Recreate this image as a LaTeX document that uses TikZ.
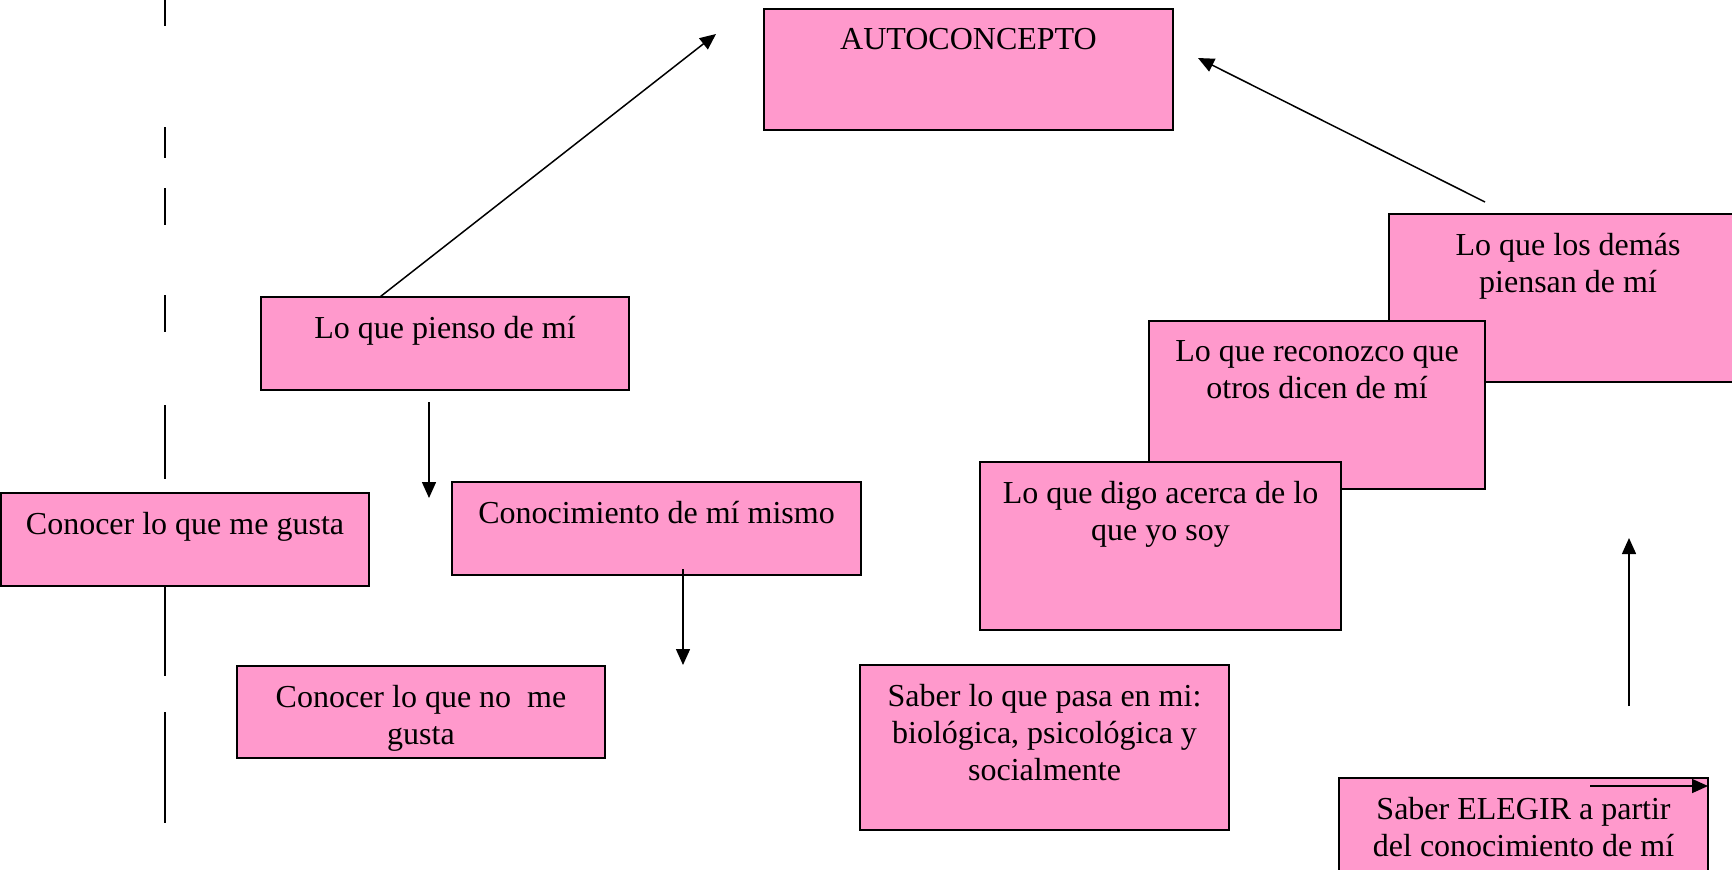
\documentclass[tikz,border=0pt]{standalone}
\usepackage{fontspec}
\setmainfont{Liberation Serif}
\usetikzlibrary{arrows.meta, calc}
\definecolor{boxpink}{HTML}{FF99CC}

\tikzset{
  pinkbox/.style={draw=black, line width=1pt, fill=boxpink, anchor=north west,
    inner sep=0pt, outer sep=0pt},
  boxtext/.style={anchor=north, align=center, inner sep=0pt, yshift=-9.5pt,
    font=\fontsize{16}{18.5}\selectfont},
  conn/.style={line width=0.75pt, -{Triangle[length=8pt,width=7pt]}}
}

\begin{document}
\begin{tikzpicture}[x=0.5pt, y=-0.5pt]

\useasboundingbox (0,0) rectangle (1732,869);
\clip (0,0) rectangle (1732,869);

% Broken line on the left
\foreach \ya/\yb in {0/26, 127/158, 188/225, 295/332, 405/479, 587/676, 712/823}
  \draw[line width=1pt] (165,\ya) -- (165,\yb);

% Boxes (the three on the right overlap, drawn back to front)
\node[pinkbox, minimum width=204.5pt, minimum height=60.5pt,
  label={[boxtext]90:AUTOCONCEPTO}] (auto) at (764,9) {};
\node[pinkbox, minimum width=179pt, minimum height=84pt,
  label={[boxtext]90:{Lo que los demás\\ piensan de mí}}] (demas) at (1389,214) {};
\node[pinkbox, minimum width=168pt, minimum height=84pt,
  label={[boxtext]90:{Lo que reconozco que\\ otros dicen de mí}}] (reconozco) at (1149,321) {};
\node[pinkbox, minimum width=180.5pt, minimum height=84pt,
  label={[boxtext]90:{Lo que digo acerca de lo\\ que yo soy}}] (digo) at (980,462) {};
\node[pinkbox, minimum width=184pt, minimum height=46.5pt,
  label={[boxtext]90:{Lo que pienso de mí}}] (pienso) at (261,297) {};
\node[pinkbox, minimum width=184pt, minimum height=46.5pt,
  label={[boxtext]90:{Conocer lo que me gusta}}] (gusta) at (1,493) {};
\node[pinkbox, minimum width=204.5pt, minimum height=46.5pt,
  label={[boxtext]90:{Conocimiento de mí mismo}}] (mismo) at (452,482) {};
\node[pinkbox, minimum width=184pt, minimum height=46pt,
  label={[boxtext]90:{Conocer lo que no\ \ me\\ gusta}}] (nogusta) at (237,666) {};
\node[pinkbox, minimum width=184.5pt, minimum height=82.5pt,
  label={[boxtext]90:{Saber lo que pasa en mi:\\ biológica, psicológica y\\ socialmente}}] (pasa) at (860,665) {};
\node[pinkbox, minimum width=184.5pt, minimum height=84pt,
  label={[boxtext]90:{Saber ELEGIR a partir\\ del conocimiento de mí}}] (elegir) at (1339,778) {};

% Free ends of the arrows
\coordinate (a1) at (716,34);
\coordinate (a2) at (1485,202);
\coordinate (a3) at (1198,58);
\coordinate (b1) at (429,402);
\coordinate (b2) at (429,498);
\coordinate (c1) at (683,569);
\coordinate (c2) at (683,665);
\coordinate (d1) at (1629,706);
\coordinate (d2) at (1629,538);
\coordinate (e1) at (1590,786);

% Arrows
\draw[conn] ($(pienso.north west)!0.323!(pienso.north east)$) -- (a1);
\draw[conn] (a2) -- (a3);
\draw[conn] (b1) -- (b2);
\draw[conn] (c1) -- (c2);
\draw[conn] (d1) -- (d2);
\draw[conn] (e1) -- (elegir.north east |- e1);

\end{tikzpicture}
\end{document}
